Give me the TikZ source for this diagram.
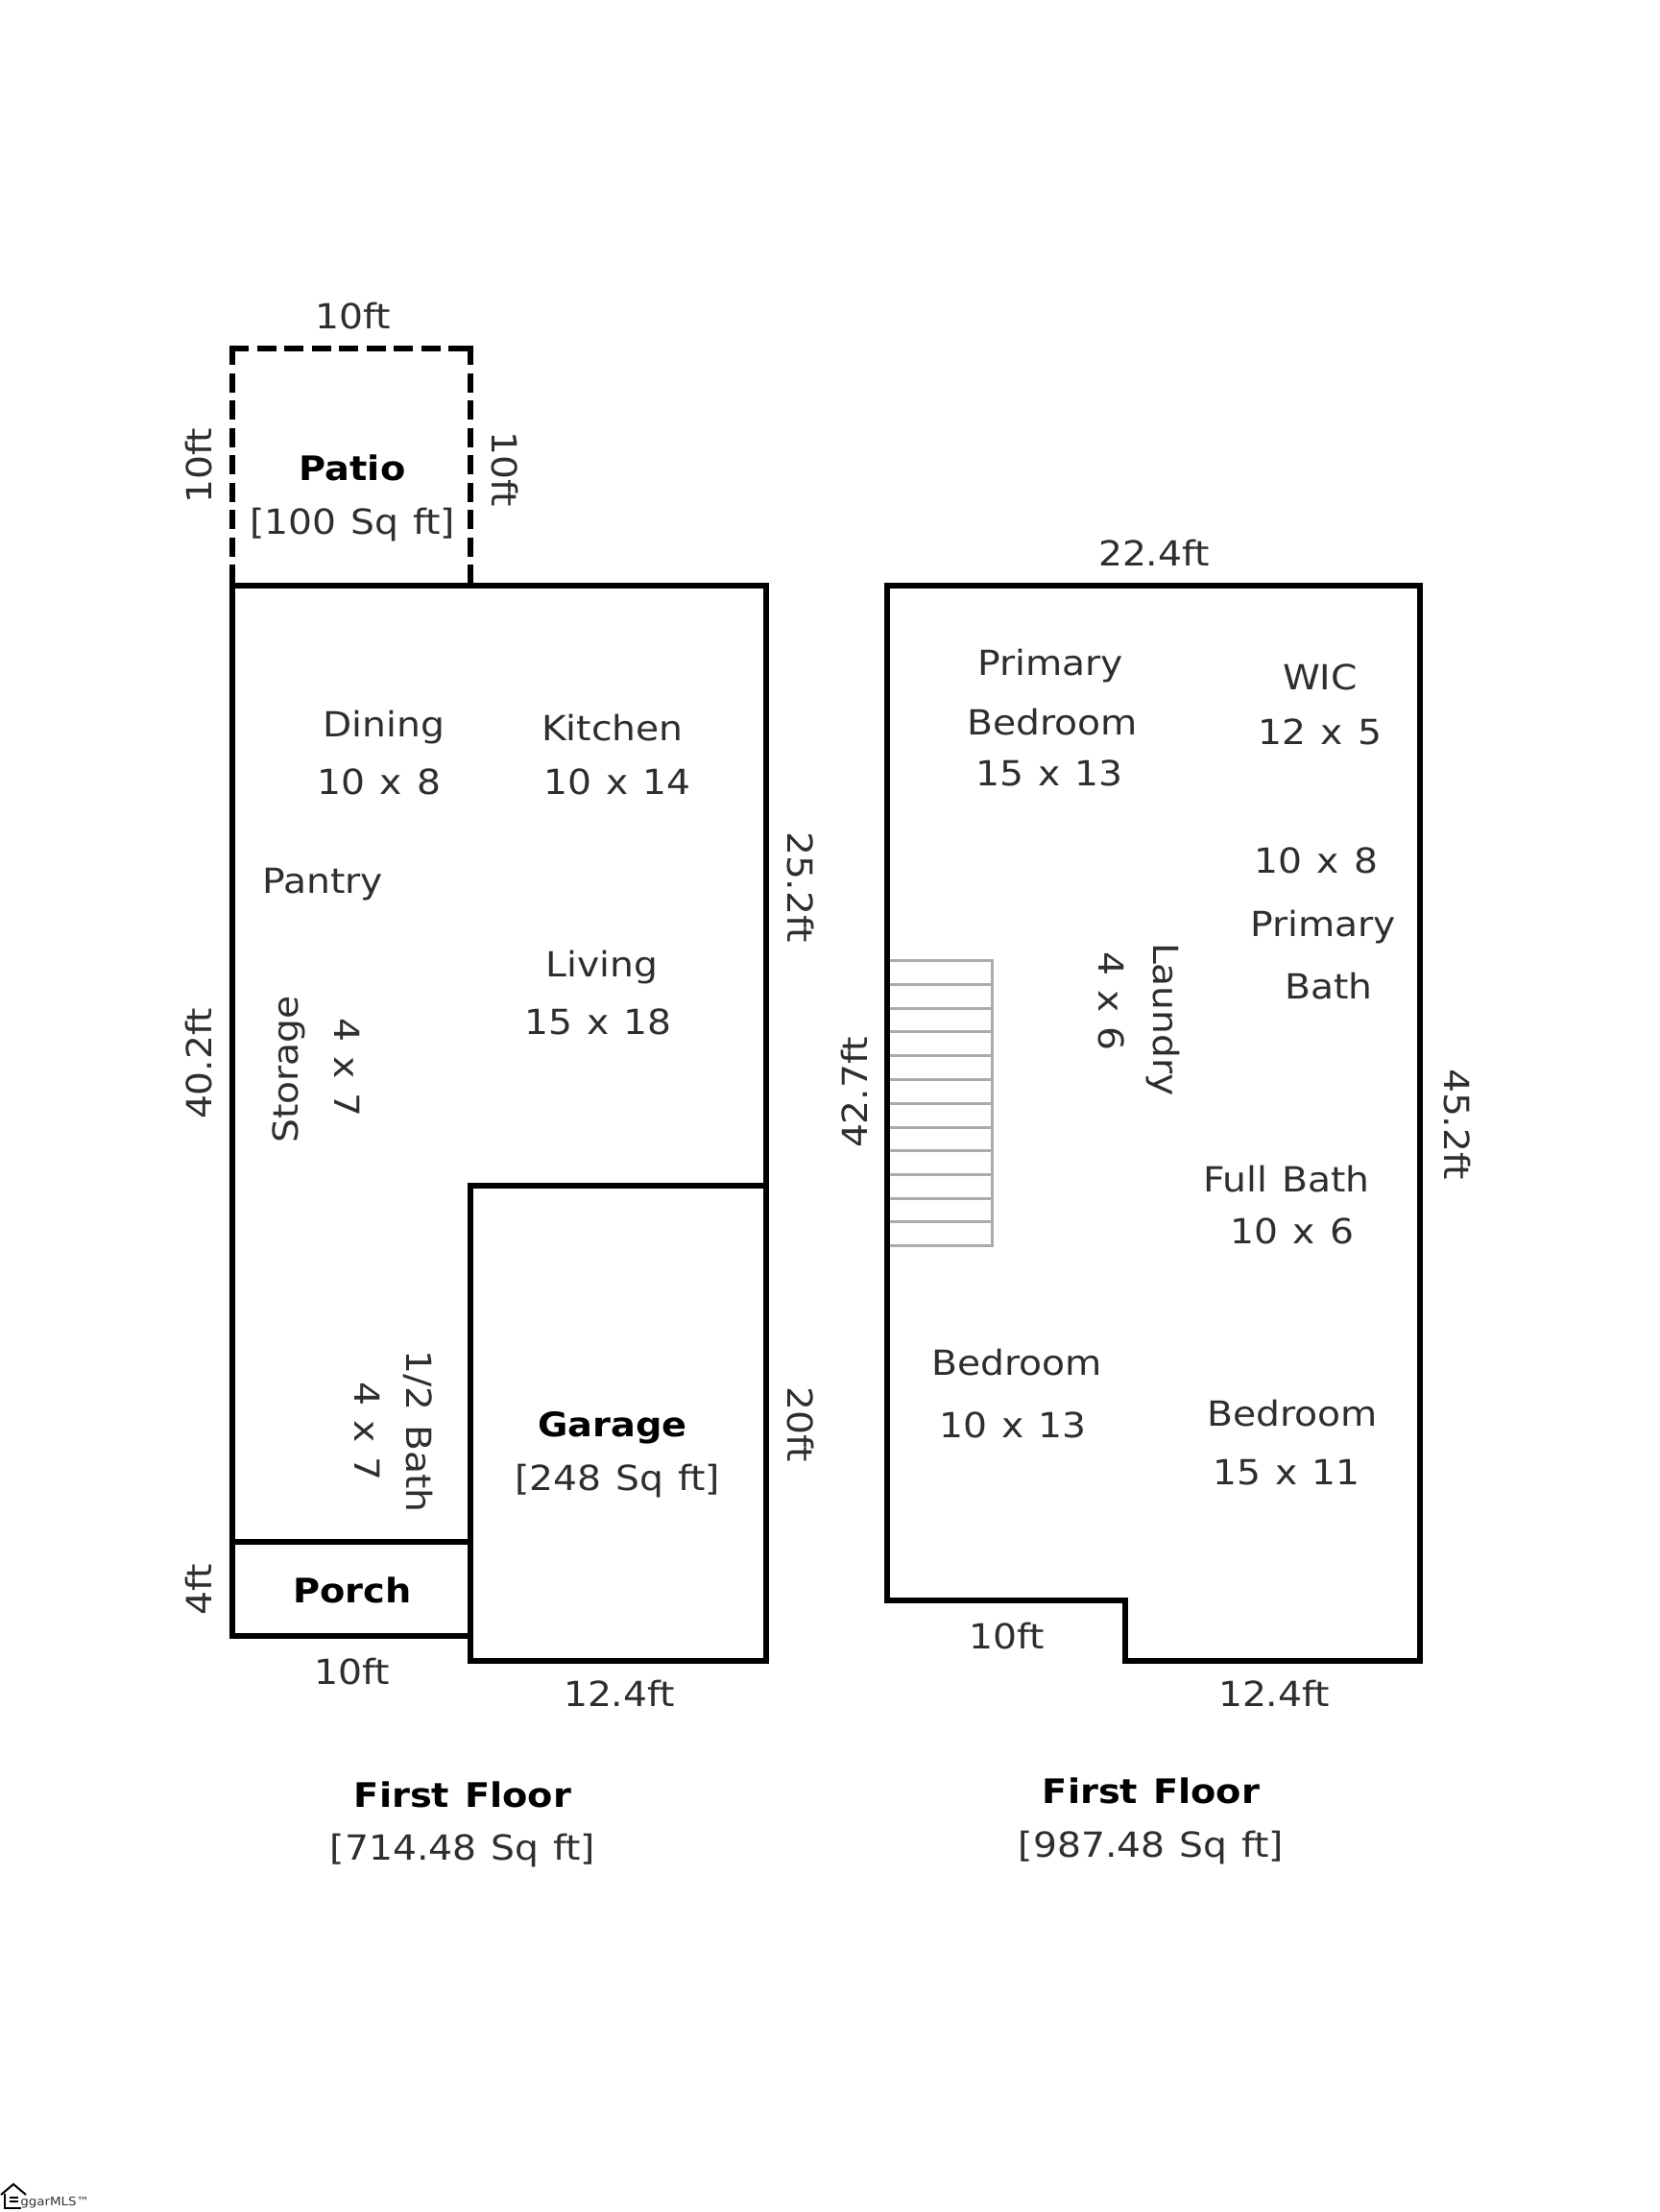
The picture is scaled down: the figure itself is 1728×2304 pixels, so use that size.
\documentclass[tikz,border=0pt]{standalone}
\usepackage{fontspec}
\setmainfont[FakeStretch=1.09, WordSpace=1.2]{DejaVu Sans}
\tikzset{
	wall/.style={line width=0.11cm, line join=miter},
	patiowall/.style={line width=0.12cm, dash pattern=on 11.4pt off 4.84pt},
	stair/.style={line width=0.06cm, draw=black!33},
	txt/.style={inner sep=0pt, text=black!82, font=\fontsize{20.5}{24}\selectfont},
	boldtxt/.style={inner sep=0pt, text=black, font=\fontsize{20}{24}\selectfont\bfseries},
	logotxt/.style={inner sep=0pt, anchor=west, text=black!80, font=\fontsize{7}{9}\selectfont}
}
\begin{document}
\begin{tikzpicture}[x=0.02cm, y=-0.02cm]
		%%%%% START %%%%%
		\useasboundingbox (0, 0) rectangle (1728, 2304);
		
		% stairs
		\draw[stair] (924, 1000) rectangle (1033, 1297);
		\draw[stair] (924, 1025) -- (1033, 1025);
		\draw[stair] (924, 1050) -- (1033, 1050);
		\draw[stair] (924, 1074) -- (1033, 1074);
		\draw[stair] (924, 1099) -- (1033, 1099);
		\draw[stair] (924, 1124) -- (1033, 1124);
		\draw[stair] (924, 1149) -- (1033, 1149);
		\draw[stair] (924, 1174) -- (1033, 1174);
		\draw[stair] (924, 1198) -- (1033, 1198);
		\draw[stair] (924, 1223) -- (1033, 1223);
		\draw[stair] (924, 1248) -- (1033, 1248);
		\draw[stair] (924, 1272) -- (1033, 1272);
		
		% left plan
		\draw[patiowall] (239, 363) -- (493, 363);
		\draw[patiowall] (242, 360) -- (242, 610);
		\draw[patiowall] (490, 360) -- (490, 610);
		\draw[wall] (490, 1704) -- (242, 1704) -- (242, 610) -- (798, 610) -- (798, 1235) -- (490, 1235);
		\draw[wall] (490, 1235) rectangle (798, 1730);
		\draw[wall] (242, 1606) -- (490, 1606);
		
		% right plan
		\draw[wall] (924, 610) -- (1479, 610) -- (1479, 1730) -- (1172, 1730) -- (1172, 1667) -- (924, 1667) -- cycle;
		
		\node[txt] (patiotop) at (368, 329) {10ft};
		\node[txt, rotate=90] (patioleft) at (207, 485) {10ft};
		\node[txt, rotate=-90] (patioright) at (526, 489) {10ft};
		\node[boldtxt] (patio) at (367, 487) {Patio};
		\node[txt] (patioarea) at (367, 547) {[100 Sq ft]};
		
		\node[txt] (dining) at (400, 758) {Dining};
		\node[txt] (diningsize) at (395, 814) {10 x 8};
		\node[txt] (kitchen) at (638, 758) {Kitchen};
		\node[txt] (kitchensize) at (643, 814) {10 x 14};
		\node[txt] (pantry) at (336, 921) {Pantry};
		\node[txt] (living) at (627, 1008) {Living};
		\node[txt] (livingsize) at (623, 1064) {15 x 18};
		\node[txt, rotate=90] (storage) at (301, 1114) {Storage};
		\node[txt, rotate=-90] (storagesize) at (362, 1112) {4 x 7};
		\node[txt, rotate=-90] (halfbath) at (436, 1491) {1/2 Bath};
		\node[txt, rotate=-90] (halfbathsize) at (383, 1491) {4 x 7};
		\node[boldtxt] (garage) at (638, 1487) {Garage};
		\node[txt] (garagearea) at (643, 1543) {[248 Sq ft]};
		\node[boldtxt] (porch) at (367, 1656) {Porch};
		
		\node[txt, rotate=-90] (leftupper) at (834, 924) {25.2ft};
		\node[txt, rotate=90] (leftside) at (207, 1108) {40.2ft};
		\node[txt, rotate=-90] (garageside) at (834, 1484) {20ft};
		\node[txt, rotate=90] (porchside) at (207, 1656) {4ft};
		\node[txt] (porchwidth) at (367, 1741) {10ft};
		\node[txt] (garagewidth) at (645, 1764) {12.4ft};
		\node[boldtxt] (floorone) at (482, 1869) {First Floor};
		\node[txt] (flooronearea) at (482, 1928) {[714.48 Sq ft]};
		
		\node[txt] (righttop) at (1202, 576) {22.4ft};
		\node[txt] (primary) at (1094, 694) {Primary};
		\node[txt] (primarybed) at (1096, 752) {Bedroom};
		\node[txt] (primarysize) at (1093, 805) {15 x 13};
		\node[txt] (wic) at (1375, 705) {WIC};
		\node[txt] (wicsize) at (1375, 762) {12 x 5};
		\node[txt] (bathsize) at (1371, 896) {10 x 8};
		\node[txt] (primarybath) at (1378, 966) {Primary};
		\node[txt] (bath) at (1384, 1027) {Bath};
		\node[txt, rotate=-90] (laundry) at (1211, 1062) {Laundry};
		\node[txt, rotate=-90] (laundrysize) at (1158, 1043) {4 x 6};
		\node[txt] (fullbath) at (1340, 1228) {Full Bath};
		\node[txt] (fullbathsize) at (1346, 1282) {10 x 6};
		\node[txt] (bedone) at (1059, 1419) {Bedroom};
		\node[txt] (bedonesize) at (1055, 1484) {10 x 13};
		\node[txt] (bedtwo) at (1346, 1472) {Bedroom};
		\node[txt] (bedtwosize) at (1340, 1534) {15 x 11};
		
		\node[txt, rotate=90] (stairside) at (890, 1138) {42.7ft};
		\node[txt, rotate=-90] (rightside) at (1518, 1171) {45.2ft};
		\node[txt] (notchwidth) at (1049, 1704) {10ft};
		\node[txt] (rightwidth) at (1327, 1764) {12.4ft};
		\node[boldtxt] (floortwo) at (1199, 1865) {First Floor};
		\node[txt] (floortwoarea) at (1199, 1925) {[987.48 Sq ft]};
		
		% logo in the corner
		\draw[line width=0.04cm] (1, 2286) -- (14, 2275) -- (27, 2286);
		\draw[line width=0.03cm] (5, 2285) -- (5, 2300) -- (22, 2300);
		\draw[line width=0.03cm] (10, 2289) -- (19, 2289);
		\draw[line width=0.03cm] (10, 2293) -- (19, 2293);
		\node[logotxt] (logo) at (21, 2294) {ggarMLS™};
		%%%%% END %%%%%
	\end{tikzpicture}
\end{document}
